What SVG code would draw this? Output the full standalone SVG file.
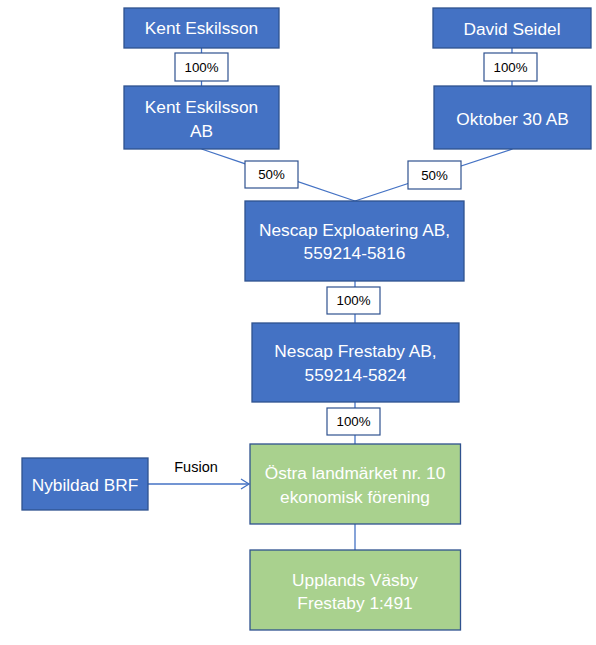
<svg xmlns="http://www.w3.org/2000/svg" width="596" height="645" viewBox="0 0 596 645">
<style>
.b{fill:#4472C4;stroke:#2F528F;stroke-width:1.3}
.g{fill:#A9D18E;stroke:#2F528F;stroke-width:1.3}
.l{fill:#FFFFFF;stroke:#2F528F;stroke-width:1.2}
.t{font-family:"Liberation Sans",Arial,sans-serif;font-size:17.3px;fill:#FFFFFF;text-anchor:middle}
.s{font-family:"Liberation Sans",Arial,sans-serif;font-size:13.3px;fill:#000000;text-anchor:middle}
.c{stroke:#4472C4;stroke-width:1.3;fill:none}
</style>
<defs>
<marker id="ah" markerWidth="12" markerHeight="12" refX="10" refY="6" orient="auto" markerUnits="userSpaceOnUse">
<path d="M2,1 L10,6 L2,11" fill="none" stroke="#4472C4" stroke-width="1.3"/>
</marker>
</defs>
<rect width="596" height="645" fill="#FFFFFF"/>
<g id="connectors">
<line class="c" x1="201.5" y1="48" x2="201.5" y2="86"/>
<line class="c" x1="512" y1="48" x2="512" y2="86"/>
<line class="c" x1="201.5" y1="149" x2="355" y2="201"/>
<line class="c" x1="512.5" y1="149" x2="355" y2="201"/>
<line class="c" x1="355" y1="281" x2="355" y2="323"/>
<line class="c" x1="355" y1="402" x2="355" y2="444"/>
<line class="c" x1="355" y1="524" x2="355" y2="550"/>
<line class="c" x1="148" y1="484" x2="249" y2="484" marker-end="url(#ah)"/>
</g>
<g id="n-kent">
<rect class="b" x="124" y="8" width="155" height="40"/>
<text class="t" x="201.5" y="33.5">Kent Eskilsson</text>
</g>
<g id="n-david">
<rect class="b" x="433" y="8" width="158" height="40"/>
<text class="t" x="512" y="35">David Seidel</text>
</g>
<g id="l-kent">
<rect class="l" x="175" y="53" width="53" height="28"/>
<text class="s" x="201.5" y="72">100%</text>
</g>
<g id="l-david">
<rect class="l" x="484" y="53" width="53" height="28"/>
<text class="s" x="510.5" y="72">100%</text>
</g>
<g id="n-kentab">
<rect class="b" x="124" y="86" width="155" height="63"/>
<text class="t" x="201.5" y="113">Kent Eskilsson</text>
<text class="t" x="201.5" y="137">AB</text>
</g>
<g id="n-oktober">
<rect class="b" x="434" y="86" width="157" height="63"/>
<text class="t" x="512.5" y="124.5">Oktober 30 AB</text>
</g>
<g id="l-50a">
<rect class="l" x="245" y="161" width="53" height="27"/>
<text class="s" x="271.5" y="179">50%</text>
</g>
<g id="l-50b">
<rect class="l" x="408" y="161" width="53" height="28"/>
<text class="s" x="434.5" y="179.5">50%</text>
</g>
<g id="n-exploatering">
<rect class="b" x="245" y="201" width="219" height="80"/>
<text class="t" x="354.5" y="235.5">Nescap Exploatering AB,</text>
<text class="t" x="354.5" y="259">559214-5816</text>
</g>
<g id="l-100c">
<rect class="l" x="327" y="287" width="53" height="27"/>
<text class="s" x="353.5" y="305">100%</text>
</g>
<g id="n-frestaby">
<rect class="b" x="252" y="323" width="207" height="79"/>
<text class="t" x="355.5" y="357">Nescap Frestaby AB,</text>
<text class="t" x="355.5" y="380.5">559214-5824</text>
</g>
<g id="l-100d">
<rect class="l" x="327" y="408" width="53" height="27"/>
<text class="s" x="353.5" y="426">100%</text>
</g>
<g id="n-brf">
<rect class="b" x="22" y="458" width="126" height="52"/>
<text class="t" x="85" y="490.5">Nybildad BRF</text>
</g>
<text x="196" y="472" font-family="'Liberation Sans',Arial,sans-serif" font-size="14.5" fill="#000000" text-anchor="middle">Fusion</text>
<g id="n-ostra">
<rect class="g" x="250" y="444" width="210.5" height="80"/>
<text class="t" x="355" y="479">Östra landmärket nr. 10</text>
<text class="t" x="355" y="502.5">ekonomisk förening</text>
</g>
<g id="n-upplands">
<rect class="g" x="250" y="550" width="210.5" height="80"/>
<text class="t" x="355" y="586">Upplands Väsby</text>
<text class="t" x="355" y="609">Frestaby 1:491</text>
</g>
</svg>
